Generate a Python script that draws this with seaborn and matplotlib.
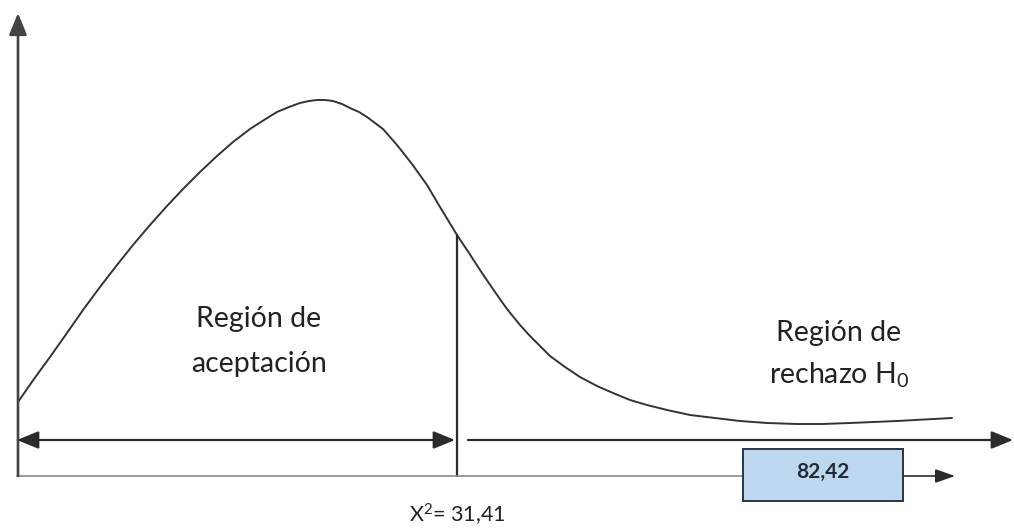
import matplotlib
matplotlib.use("Agg")
import matplotlib.pyplot as plt
from matplotlib.patches import Rectangle
import seaborn as sns
import pandas as pd

sns.set_theme(style="white")
plt.rcParams["font.family"] = ["Lato", "DejaVu Sans"]
plt.rcParams["mathtext.fontset"] = "custom"
plt.rcParams["mathtext.rm"] = "Lato"
plt.rcParams["mathtext.it"] = "Lato"

# Density curve (horizontal position, height above the baseline)
curve_x = [1, 17, 33, 50, 66, 83, 100, 116, 133, 150, 166, 183, 200, 216, 233,
           247, 260, 272, 283, 292, 300, 308, 316, 325, 333, 342, 350, 358, 366,
           380, 395, 410, 423, 440, 452, 463, 478, 490, 503, 513, 523, 533, 548,
           563, 580, 596, 613, 630, 650, 673, 698, 723, 750, 780, 805, 833, 880, 935]
curve_y = [74, 97, 119, 143, 166, 189, 211, 231, 251, 270, 287, 304, 320, 334, 347,
           356, 364, 369, 373, 375, 376, 376, 375, 372, 368, 364, 359, 353, 347,
           331, 312, 291, 269, 241, 223, 206, 184, 167, 151, 140, 130, 120, 109,
           99, 90, 83, 76, 71, 66, 61, 58, 55, 53, 52, 52, 53, 55, 58]

critical_x = 440          # position of the critical value on the baseline
critical_label = "X$^{2}$= 31,41"
observed_label = "82,42"
accept_lines = ["Región de", "aceptación"]
reject_lines = ["Región de", "rechazo H$_{0}$"]

ink = "#2b2b2b"
fig = plt.figure(figsize=(10.14, 5.29), dpi=100)
ax = fig.add_axes([0, 0, 1, 1])
ax.set_xlim(-17, 997)
ax.set_ylim(-53, 476)
ax.axis("off")

df = pd.DataFrame({"x": curve_x, "y": curve_y})
sns.lineplot(data=df, x="x", y="y", sort=False, estimator=None,
             color="#333333", linewidth=1.4, ax=ax)

# critical value marker, from the baseline up to the curve
crit_y = dict(zip(curve_x, curve_y))[critical_x]
ax.plot([critical_x, critical_x], [0, crit_y], color=ink, linewidth=1.6)

# vertical axis with arrow
ax.annotate("", xy=(1, 463), xytext=(1, 0),
            arrowprops=dict(arrowstyle="-|>,head_length=1.1,head_width=0.45",
                            color="#444444", linewidth=1.9, shrinkA=0, shrinkB=0))
# baseline
ax.plot([0, 726], [0, 0], color="#8a8a8a", linewidth=1.2)
ax.annotate("", xy=(938, 0), xytext=(886, 0),
            arrowprops=dict(arrowstyle="-|>,head_length=1.0,head_width=0.35",
                            color=ink, linewidth=1.2, shrinkA=0, shrinkB=0))

# acceptance region double arrow
ax.annotate("", xy=(0, 36), xytext=(438, 36),
            arrowprops=dict(arrowstyle="<|-|>,head_length=1.1,head_width=0.45",
                            color=ink, linewidth=1.6, shrinkA=0, shrinkB=0))
# rejection region arrow
ax.annotate("", xy=(996, 36), xytext=(451, 36),
            arrowprops=dict(arrowstyle="-|>,head_length=1.1,head_width=0.45",
                            color=ink, linewidth=1.6, shrinkA=0, shrinkB=0))

# observed statistic box
ax.add_patch(Rectangle((726, -25), 160, 52, facecolor="#bdd7ee",
                       edgecolor="#2a3340", linewidth=1.4, zorder=3))
ax.text(806, 4, observed_label, ha="center", va="center", fontsize=15,
        fontweight="bold", color="#1f2a36", zorder=4)

# region labels
ax.text(242, 149, accept_lines[0], ha="center", va="baseline", fontsize=20.5, color="#222222")
ax.text(242, 104, accept_lines[1], ha="center", va="baseline", fontsize=20.5, color="#222222")
ax.text(822, 135, reject_lines[0], ha="center", va="baseline", fontsize=20.5, color="#222222")
ax.text(822, 92, reject_lines[1], ha="center", va="baseline", fontsize=20.5, color="#222222")

ax.text(440, -47, critical_label, ha="center", va="baseline", fontsize=15.5, color="#222222")

fig.savefig("out.png", dpi=100, facecolor="white")
